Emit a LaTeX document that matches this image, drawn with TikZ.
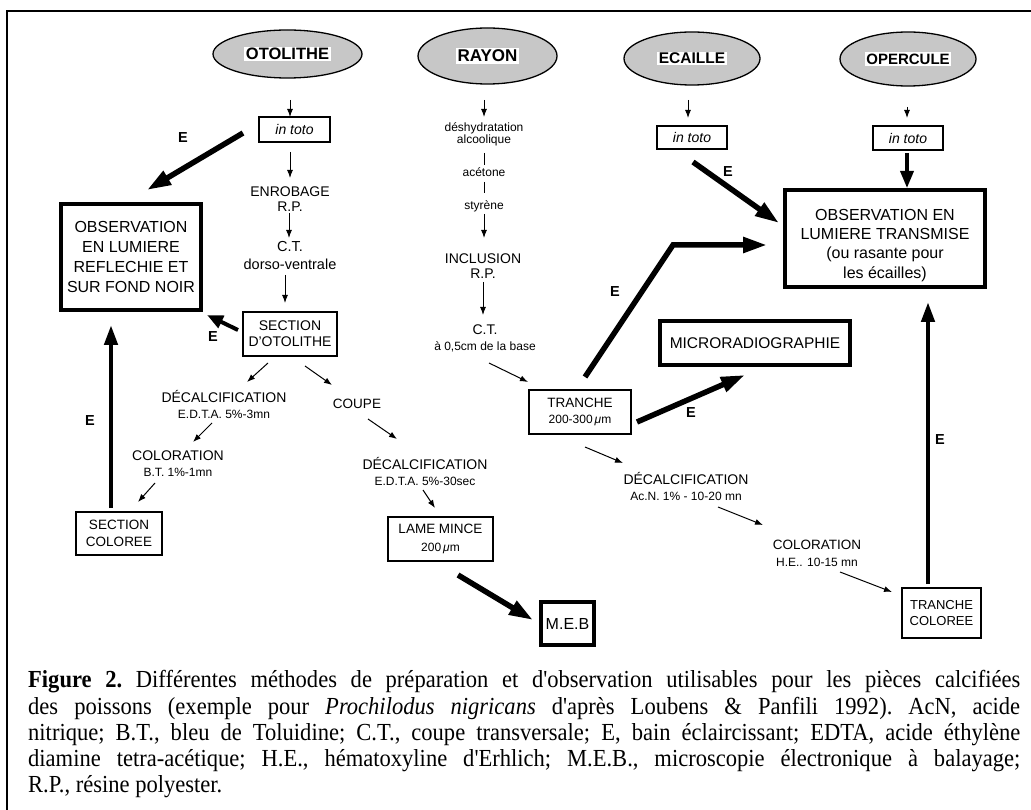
\documentclass[tikz,border=0pt]{standalone}
\usepackage{fontspec}
\setsansfont{Liberation Sans}
\newfontfamily\capfont[FakeStretch=0.92]{Liberation Serif}
\usetikzlibrary{shapes.geometric,arrows.meta,calc}
\newcommand\fsz[2]{\fontsize{#1}{#2}\selectfont}
\newcommand\wb[1]{{\setlength\fboxsep{1.5pt}\colorbox{white}{#1}}}
\newcommand\sm{\fsz{12}{13}}
\tikzset{
  every node/.style={inner sep=0pt, align=center},
  txt/.style={font=\sffamily\fsz{14}{16}},
  src/.style={ellipse, draw, line width=1.3pt, fill=black!22, font=\sffamily\bfseries\fsz{16.5}{18}},
  tbox/.style={draw, line width=1.1pt, font=\sffamily\fsz{13.5}{16.5}},
  Tbox/.style={draw, line width=3.5pt, font=\sffamily\fsz{16}{19.7}},
  arr/.style={-{Latex[length=8pt,width=6pt]}, line width=1pt},
  big/.style={-{Triangle[length=24pt,width=15pt]}, line width=5.5pt},
  elab/.style={font=\sffamily\bfseries\fsz{14.5}{16}},
}
\begin{document}
\begin{tikzpicture}[x=1pt,y=-1pt]
\useasboundingbox (0,0) rectangle (1031,810);
\draw[line width=1.6pt] (7,810) -- (7,11) -- (1031,11);

% sources
\node[src, minimum width=149, minimum height=48] (oto) at (287.5,54) {\wb{OTOLITHE}};
\node[src, minimum width=139, minimum height=56, font=\sffamily\bfseries\fsz{17}{18}] (rayon) at (487.5,56) {\wb{RAYON}};
\node[src, minimum width=136, minimum height=53, font=\sffamily\bfseries\fsz{15.5}{18}] (ecaille) at (692,58.5) {\wb{ECAILLE}};
\node[src, minimum width=136, minimum height=54, font=\sffamily\bfseries\fsz{15}{18}] (opercule) at (908,59) {\wb{OPERCULE}};

% boxes
\node[tbox, minimum width=71, minimum height=25, font=\sffamily\itshape\fsz{14}{16}] (intoto1) at (294.5,129.5) {in toto};
\node[tbox, minimum width=70, minimum height=23, font=\sffamily\itshape\fsz{14}{16}] (intoto2) at (692,137.5) {in toto};
\node[tbox, minimum width=70, minimum height=24, font=\sffamily\itshape\fsz{14}{16}] (intoto3) at (908,138) {in toto};
\node[Tbox, minimum width=140, minimum height=106] (obsref) at (131,257) {OBSERVATION\\EN LUMIERE\\REFLECHIE ET\\SUR FOND NOIR};
\node[Tbox, minimum width=200, minimum height=97, font=\sffamily\fsz{16}{19.3}] (obstr) at (885,238.5) {\rule{0pt}{25pt}OBSERVATION EN\\LUMIERE TRANSMISE\\(ou rasante pour\\les écailles)};
\node[Tbox, minimum width=190, minimum height=44, font=\sffamily\fsz{15.5}{18}] (micro) at (755,343) {MICRORADIOGRAPHIE};
\node[Tbox, minimum width=53, minimum height=43] (meb) at (567.5,623.5) {M.E.B};
\node[tbox, minimum width=94, minimum height=44, font=\sffamily\fsz{14}{16}] (sectot) at (290,334) {SECTION\\D’OTOLITHE};
\node[tbox, minimum width=86, minimum height=43] (seccol) at (119,533.5) {SECTION\\COLOREE};
\node[tbox, minimum width=105, minimum height=44] (lame) at (440.5,539) {LAME MINCE\\[1pt]{\sm 200\,\textit{μ}m}};
\node[tbox, minimum width=102, minimum height=44] (tranche) at (580,412) {TRANCHE\\{\sm 200-300\,\textit{μ}m}};
\node[tbox, minimum width=79, minimum height=50, font=\sffamily\fsz{13}{15.5}] (trcol) at (941.5,613) {TRANCHE\\COLOREE};

% labels
\node[txt, font=\sffamily\fsz{14}{15}] (enrob) at (290,199.5) {ENROBAGE\\R.P.};
\node[txt, font=\sffamily\fsz{14.5}{18}] (ct1) at (290,256) {C.T.\\dorso-ventrale};
\node[txt] (dec1) at (224,404) {DÉCALCIFICATION\\{\sm E.D.T.A. 5\%-3mn}};
\node[txt, font=\sffamily\fsz{13.5}{16}] (coupe) at (357,404) {COUPE};
\node[txt] (col1) at (178,464) {COLORATION\\{\sm B.T. 1\%-1mn}};
\node[txt] (dec2) at (425,471) {DÉCALCIFICATION\\{\sm E.D.T.A. 5\%-30sec}};
\node[txt, font=\sffamily\fsz{12}{12.5}] (desh) at (484,134.5) {déshydratation\\alcoolique};
\node[txt, font=\sffamily\fsz{12}{12.5}] (acet) at (484,172) {acétone};
\node[txt, font=\sffamily\fsz{12}{12.5}] (styr) at (484,206) {styrène};
\node[txt, font=\sffamily\fsz{14}{15}] (incl) at (483,266.5) {INCLUSION\\R.P.};
\node[txt] (ct2) at (485,338) {C.T.\\{\sm à 0,5cm de la base}};
\node[txt] (dec3) at (686,486) {DÉCALCIFICATION\\{\sm Ac.N. 1\% - 10-20 mn}};
\node[txt, font=\sffamily\fsz{13.5}{16.5}] (col3) at (817,553.5) {COLORATION\\{\sm H.E.. 10-15 mn}};

% thin arrows
\draw[arr] ($(oto)+(2.5,46)$) -- ($(intoto1)+(-4.5,-12.5)$);
\draw[arr] ($(intoto1)+(-4.5,22.5)$) -- ($(enrob)+(0,-21.5)$);
\draw[arr] ($(enrob)+(-1,13.5)$) -- ($(ct1)+(-1,-18)$);
\draw[arr] ($(ct1)+(-5,19)$) -- ($(sectot)+(-5,-31)$);
\draw[arr] ($(sectot)+(-22,29)$) -- ($(dec1)+(23,-22)$);
\draw[arr] ($(sectot)+(15,32)$) -- ($(coupe)+(-25,-19)$);
\draw[arr] ($(dec1)+(-12,19)$) -- ($(col1)+(15,-22)$);
\draw[arr] ($(col1)+(-23,19)$) -- ($(seccol)+(19,-31.5)$);
\draw[arr] ($(coupe)+(11,15)$) -- ($(dec2)+(-28,-32)$);
\draw[arr] ($(dec2)+(-2,19)$) -- ($(lame)+(-5.5,-31)$);
\draw[arr] ($(rayon)+(-3.5,44)$) -- ($(desh)+(0,-17.5)$);
\draw[line width=1pt] ($(desh)+(0,18.5)$) -- ($(acet)+(0,-7)$);
\draw[line width=1pt] ($(acet)+(0,10)$) -- ($(styr)+(0,-13)$);
\draw[arr] ($(styr)+(0,8)$) -- ($(incl)+(1,-28.5)$);
\draw[arr] ($(incl)+(0,15.5)$) -- ($(ct2)+(-2,-23)$);
\draw[arr] ($(ct2)+(4,25)$) -- ($(tranche)+(-52,-30)$);
\draw[arr] ($(tranche)+(5,35)$) -- ($(dec3)+(-63,-23)$);
\draw[arr] ($(dec3)+(32,21)$) -- ($(col3)+(-54,-28.5)$);
\draw[arr] ($(col3)+(23,18.5)$) -- ($(trcol)+(-49.5,-21)$);
\draw[arr] ($(ecaille)+(-4,41.5)$) -- ($(intoto2)+(-4,-19.5)$);
\draw[arr] ($(opercule)+(-1,48)$) -- ($(intoto3)+(-1,-20)$);
\draw[-{Triangle[length=17pt,width=13pt]}, line width=3.5pt] ($(intoto3)+(-1,15)$) -- ($(obstr)+(22,-50.5)$);

% E arrows
\draw[big] ($(intoto1)+(-51.5,3.5)$) -- ($(obsref)+(16,-67)$);
\node[elab] (e1) at (183,138) {E};
\draw[-{Triangle[length=16pt,width=13pt]}, line width=4pt] ($(sectot)+(-52,-4)$) -- ($(obsref)+(76,58)$);
\node[elab] (e2) at (213,337) {E};
\draw[-{Triangle[length=20pt,width=13pt]}, line width=4.5pt] ($(seccol)+(-8,-25.5)$) -- ($(obsref)+(-20,68)$);
\node[elab] (e3) at (90,421) {E};
\draw[big] ($(intoto2)+(1,24.5)$) -- ($(obstr)+(-106,-15.5)$);
\node[elab] (e4) at (728,172) {E};
\draw[big, line join=miter] ($(tranche)+(5,-35)$) -- ($(obstr)+(-212,6.5)$) -- ($(obstr)+(-118,6.5)$);
\node[elab] (e5) at (615,292) {E};
\draw[big] ($(tranche)+(57,10)$) -- ($(micro)+(-10,32)$);
\node[elab] (e6) at (691,413) {E};
\draw[-{Triangle[length=20pt,width=13pt]}, line width=4.5pt] ($(trcol)+(-13.5,-29)$) -- ($(obstr)+(43,63.5)$);
\node[elab] (e7) at (940,440) {E};
\draw[big] ($(lame)+(17.5,36)$) -- ($(meb)+(-34.5,-3.5)$);

% caption
\node[anchor=north west, text width=992pt, align=justify, font=\capfont\fsz{24.5}{26.2}] (cap) at (28,670.5) {\frenchspacing\textbf{Figure 2.} Différentes méthodes de préparation et d'observation utilisables pour les pièces calcifiées\linebreak des poissons (exemple pour \textit{Prochilodus nigricans} d'après Loubens \& Panfili 1992). AcN, acide\linebreak nitrique; B.T., bleu de Toluidine; C.T., coupe transversale; E, bain éclaircissant; EDTA, acide éthylène\linebreak diamine tetra-acétique; H.E., hématoxyline d'Erhlich; M.E.B., microscopie électronique à balayage;\linebreak R.P., résine polyester.};
\end{tikzpicture}
\end{document}
